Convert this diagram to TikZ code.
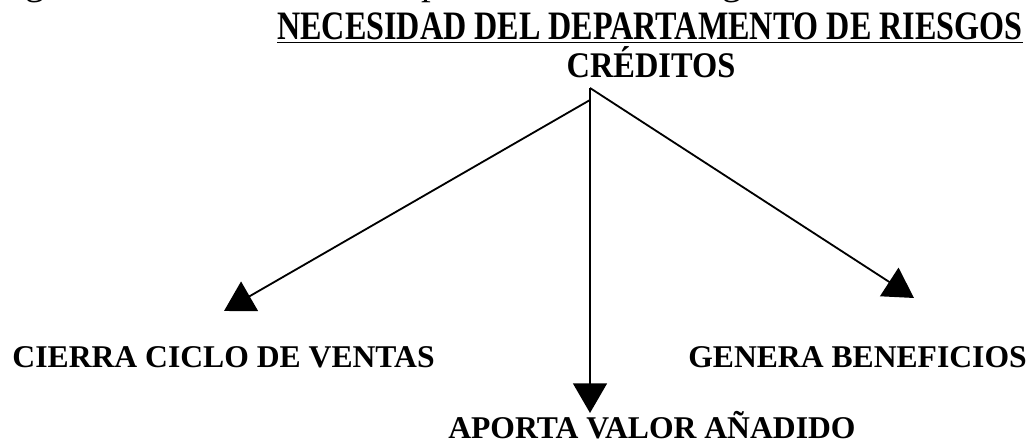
\documentclass[tikz,border=0pt]{standalone}
\usepackage{fontspec}
\setmainfont{Liberation Serif}
\newfontfamily\boldfont{Liberation Serif Bold}
\usetikzlibrary{arrows.meta}
\tikzstyle{caption} = [anchor=base west, inner sep=0pt, font=\fontsize{27.7}{30}\selectfont]
\tikzstyle{heading} = [inner sep=0pt, font=\boldfont\fontsize{25.8}{28}\selectfont]
\tikzstyle{branch} = [inner sep=0pt, font=\boldfont\fontsize{22.5}{26}\selectfont]
\tikzstyle{link} = [line width=1.3pt, -{Triangle[length=21pt, width=24pt]}]

\begin{document}
\begin{tikzpicture}[x=0.025cm, y=-0.025cm]
    \path[use as bounding box, clip] (0,0) rectangle (1031,444);
    \node[caption, name=caption] at (-7,-5) {Figura 1. Necesidad del Departamento de Riesgos. Fuente: Elaboración propia};
    \node[heading, anchor=base west, name=title] at (277,40) {\underline{\resizebox{530pt}{19pt}{NECESIDAD DEL DEPARTAMENTO DE RIESGOS}}};
    \node[heading, anchor=base, name=creditos] at (651,78) {\resizebox{120pt}{22pt}{CRÉDITOS}};

    \coordinate (apex) at (590,88);
    \coordinate (fork) at (590,100);
    \coordinate (tipL) at (224,311);
    \coordinate (tipR) at (914,298);
    \coordinate (tipD) at (590,413);

    \node[branch, anchor=base east, name=ciclo] at (435,368) {CIERRA CICLO DE VENTAS};
    \node[branch, anchor=base west, name=beneficios] at (688,368) {GENERA BENEFICIOS};
    \node[branch, anchor=base west, name=valor] at (448,439) {APORTA VALOR AÑADIDO};

    \draw[link] (fork) -- (tipL);
    \draw[link] (apex) -- (tipR);
    \draw[link] (apex) -- (tipD);
\end{tikzpicture}
\end{document}
